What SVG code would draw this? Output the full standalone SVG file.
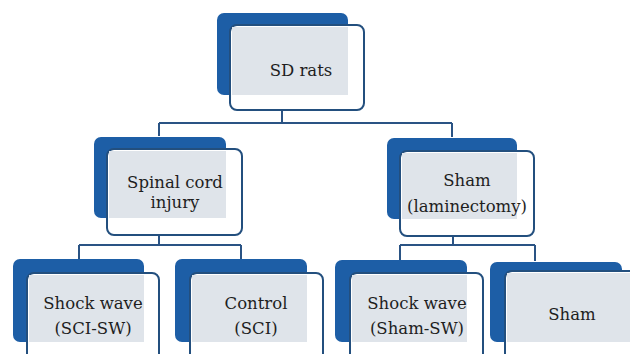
<svg xmlns="http://www.w3.org/2000/svg" width="630" height="354" viewBox="0 0 630 354">
<style>
.back{fill:#1d5ea6}
.front{fill:#ffffff;stroke:#234f7e;stroke-width:2}
.shade{fill:#dfe4ea}
.conn{fill:none;stroke:#2a5384;stroke-width:2}
.t{font-family:"DejaVu Serif","Liberation Serif",serif;font-size:16.5px;fill:#1e1e1e;text-anchor:middle}
</style>
<rect width="630" height="354" fill="#ffffff"/>
<g id="connectors">
<path class="conn" d="M282,110 V123 M159,123 H452 M159,123 V136 M452,123 V137"/>
<path class="conn" d="M159,235 V245 M79,245 H241 M79,245 V259 M241,245 V259"/>
<path class="conn" d="M453,236 V245 M400,245 H535 M400,245 V260 M535,245 V261"/>
</g>
<g id="n-sdrats">
<rect class="back" x="217" y="13" width="131" height="82" rx="7"/>
<rect class="front" x="230" y="25" width="134" height="85" rx="7"/>
<rect class="shade" x="232" y="27" width="116" height="68"/>
<text class="t" x="301" y="76">SD rats</text>
</g>
<g id="n-sci">
<rect class="back" x="94" y="137" width="132" height="81" rx="7"/>
<rect class="front" x="107" y="149" width="135" height="86" rx="7"/>
<rect class="shade" x="109" y="151" width="117" height="67"/>
<text class="t" x="175" y="188">Spinal cord</text>
<text class="t" x="175" y="208">injury</text>
</g>
<g id="n-shamlam">
<rect class="back" x="387" y="138" width="130" height="81" rx="7"/>
<rect class="front" x="400" y="151" width="134" height="85" rx="7"/>
<rect class="shade" x="402" y="153" width="115" height="66"/>
<text class="t" x="467" y="186">Sham</text>
<text class="t" x="467" y="212">(laminectomy)</text>
</g>
<g id="n-scisw">
<rect class="back" x="13" y="259" width="131" height="83" rx="7"/>
<rect class="front" x="27" y="273" width="132" height="95" rx="7"/>
<rect class="shade" x="29" y="275" width="115" height="67"/>
<text class="t" x="93" y="309">Shock wave</text>
<text class="t" x="93" y="334">(SCI-SW)</text>
</g>
<g id="n-control">
<rect class="back" x="175" y="259" width="132" height="83" rx="7"/>
<rect class="front" x="190" y="273" width="133" height="95" rx="7"/>
<rect class="shade" x="192" y="275" width="115" height="67"/>
<text class="t" x="256" y="309">Control</text>
<text class="t" x="256" y="334">(SCI)</text>
</g>
<g id="n-shamsw">
<rect class="back" x="335" y="260" width="132" height="82" rx="7"/>
<rect class="front" x="350" y="273" width="133" height="95" rx="7"/>
<rect class="shade" x="352" y="275" width="115" height="67"/>
<text class="t" x="417" y="309">Shock wave</text>
<text class="t" x="417" y="334">(Sham-SW)</text>
</g>
<g id="n-sham">
<rect class="back" x="490" y="262" width="132" height="80" rx="7"/>
<rect class="front" x="505" y="271" width="140" height="97" rx="7"/>
<rect class="shade" x="507" y="273" width="123" height="69"/>
<text class="t" x="572" y="320">Sham</text>
</g>
</svg>
